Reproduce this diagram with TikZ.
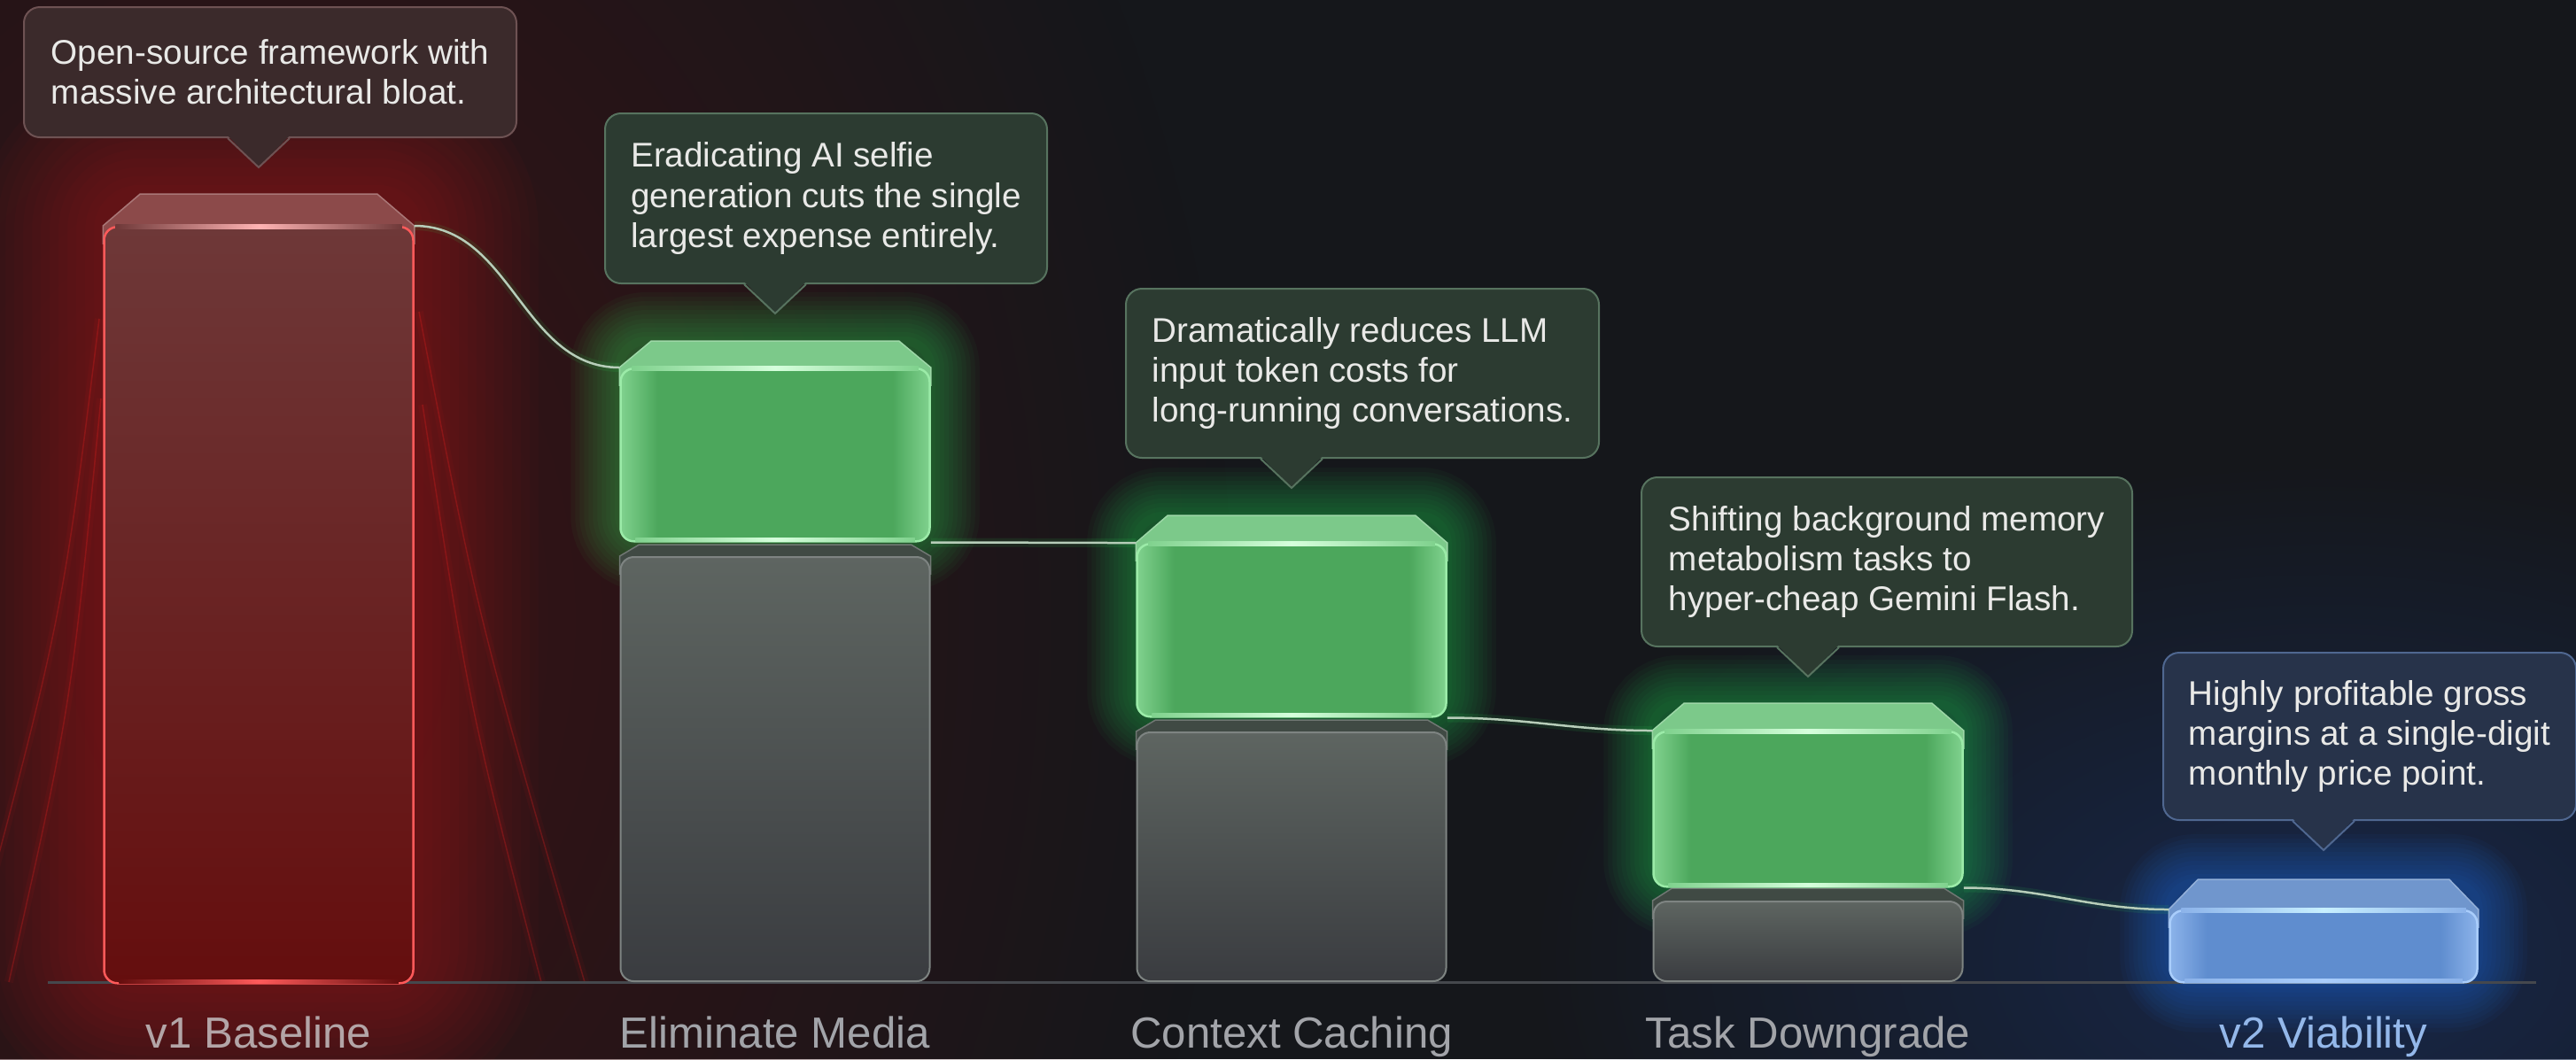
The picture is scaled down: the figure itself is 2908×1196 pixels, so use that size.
\documentclass[tikz,border=0pt]{standalone}
\usepackage{fontspec}
\setmainfont{Liberation Sans}
\usepackage{tikz}
\usepackage{xcolor}
\usetikzlibrary{calc,
	positioning,
	backgrounds,
	fadings}
\definecolor{bgc}{HTML}{15171B}
\definecolor{redhaze}{HTML}{3A1214}
\definecolor{bluhaze}{HTML}{18284A}
\definecolor{redln}{HTML}{FF5A5A}
\definecolor{redtop}{HTML}{6E3838}
\definecolor{redbot}{HTML}{650E0E}
\definecolor{redface}{HTML}{8C4A4A}
\definecolor{redhi}{HTML}{FFB4B4}
\definecolor{redglo}{HTML}{FF2020}
\definecolor{grnedge}{HTML}{80D28E}
\definecolor{grnmid}{HTML}{4CA75C}
\definecolor{grnln}{HTML}{9BEBA8}
\definecolor{grnface}{HTML}{7CC98A}
\definecolor{grnhi}{HTML}{D6FFDC}
\definecolor{grnglo}{HTML}{2FE05A}
\definecolor{gytop}{HTML}{5E6561}
\definecolor{gybot}{HTML}{3A3C40}
\definecolor{gyln}{HTML}{7E8482}
\definecolor{gyface}{HTML}{404A44}
\definecolor{bluedge}{HTML}{8CB3EA}
\definecolor{blumid}{HTML}{5F8DCF}
\definecolor{bluln}{HTML}{A9CDFB}
\definecolor{bluface}{HTML}{7096CD}
\definecolor{bluhi}{HTML}{C8F0FF}
\definecolor{bluglo}{HTML}{2F7DFF}
\definecolor{c1f}{HTML}{3B2A2B}
\definecolor{c1d}{HTML}{6E5253}
\definecolor{c2f}{HTML}{2C3B31}
\definecolor{c2d}{HTML}{57735F}
\definecolor{c5f}{HTML}{27334A}
\definecolor{c5d}{HTML}{4F6790}
\definecolor{txt}{HTML}{E9E9E7}
\definecolor{lbc}{HTML}{A2A4A9}
\definecolor{lb1}{HTML}{B3A5A7}
\definecolor{lb5}{HTML}{94B8EA}
\definecolor{lnc}{HTML}{B7CDB9}
\definecolor{blc}{HTML}{45484D}
\pgfdeclarelayer{back}
\pgfdeclarelayer{glow}
\pgfsetlayers{back,glow,main}
\pgfdeclarehorizontalshading{gblk}{100bp}{color(0bp)=(grnedge); color(25bp)=(grnedge);
	color(31bp)=(grnmid); color(69bp)=(grnmid); color(75bp)=(grnedge); color(100bp)=(grnedge)}
\pgfdeclarehorizontalshading{bblk}{100bp}{color(0bp)=(bluedge); color(25bp)=(bluedge);
	color(31bp)=(blumid); color(69bp)=(blumid); color(75bp)=(bluedge); color(100bp)=(bluedge)}
\tikzfading[name=haze, inner color=transparent!0, outer color=transparent!100]
\tikzstyle{rb}=[draw=redln, line width=0.25mm, top color=redtop, bottom color=redbot,
		rounded corners=1.5mm, minimum width=34.9mm, inner sep=0, anchor=north]
\tikzstyle{gb}=[draw=grnln, line width=0.25mm, shade, shading=gblk,
		rounded corners=1.5mm, minimum width=34.9mm, inner sep=0, anchor=north]
\tikzstyle{gy}=[draw=gyln, line width=0.2mm, top color=gytop, bottom color=gybot,
		rounded corners=1.5mm, minimum width=34.9mm, inner sep=0, anchor=north]
\tikzstyle{bb}=[draw=bluln, line width=0.25mm, shade, shading=bblk,
		rounded corners=1.5mm, minimum width=34.7mm, inner sep=0, anchor=north]
\tikzstyle{cb}=[rounded corners=1.8mm, line width=0.2mm, inner sep=0,
		align=left, text=txt, font=\fontsize{11pt}{12.9pt}\selectfont]
\tikzstyle{cr}=[cb, fill=c1f, draw=c1d]
\tikzstyle{cg}=[cb, fill=c2f, draw=c2d]
\tikzstyle{cl}=[cb, fill=c5f, draw=c5d]
\tikzstyle{lb}=[anchor=base, text=lbc, font=\fontsize{14pt}{16pt}\selectfont]
\tikzstyle{ln}=[draw=lnc, line width=0.25mm]
\tikzstyle{lg}=[draw=grnglo, line width=1mm, opacity=0.1]

\begin{document}
\begin{tikzpicture}[x=0.1mm, y=-0.1mm]
	\useasboundingbox (0,0) rectangle (2908,1196);
	\node[rb, minimum height=85.4mm] (v1) at (292,255) {};
	\node[gy, minimum height=47.9mm] (em0) at (875,628) {};
	\node[gb, minimum height=19.5mm] (em) at (875,415) {};
	\node[gy, minimum height=28.1mm] (cc0) at (1458,826) {};
	\node[gb, minimum height=19.5mm] (cc) at (1458,613) {};
	\node[gy, minimum height=9mm] (td0) at (2041,1017) {};
	\node[gb, minimum height=17.5mm] (td) at (2041,825) {};
	\node[bb, minimum height=8.1mm] (v2) at (2623,1027) {};
	\coordinate (fl) at (0,1183);

	\begin{pgfonlayer}{back}
		\fill[bgc] (0,0) rectangle (2908,1196);
		\fill[redhaze, path fading=haze] (292,700) ellipse [x radius=1100, y radius=1500];
		\fill[bluhaze, path fading=haze] (2623,1080) ellipse [x radius=900, y radius=560];
	\end{pgfonlayer}

	\begin{pgfonlayer}{glow}
		\foreach \p/\q/\r in {{112,360}/{70,700}/{-40,1109}, {114,450}/{80,800}/{10,1109},
				{473,352}/{540,700}/{660,1109}, {477,457}/{530,800}/{611,1109}} {
			\draw[redglo, opacity=0.05, line width=1mm] (\p) .. controls (\q) .. (\r);
			\draw[redglo, opacity=0.25, line width=0.15mm] (\p) .. controls (\q) .. (\r);
		}
		\foreach \i [evaluate=\i as \lw using \i*2] in {1,...,14}
			\draw[redglo, line width=\lw mm, opacity=0.025, rounded corners=4mm] (v1.south west) rectangle ($(v1.north east)+(0,-36)$);
		\foreach \nn/\cl in {em/grnglo, cc/grnglo, td/grnglo, v2/bluglo}
			\foreach \i [evaluate=\i as \lw using \i*1.1] in {1,...,11}
				\draw[\cl, line width=\lw mm, opacity=0.04, rounded corners=3mm] (\nn.south west) rectangle ($(\nn.north east)+(0,-30)$);
		\foreach \nn/\dx/\dy/\cl in {v1/42/36/redface, em/36/30/grnface, cc/36/31/grnface, td/36/31/grnface,
				em0/22/13/gyface, cc0/22/13/gyface, td0/22/14/gyface, v2/33/34/bluface}
			\filldraw[fill=\cl, draw=\cl!75!white, line width=0.15mm] ($(\nn.north west)+(0,20)$) -- (\nn.north west) -- ++(\dx,-\dy)
				-- ($(\nn.north east)+(-\dx,-\dy)$) -- (\nn.north east) -- ($(\nn.north east)+(0,20)$) -- cycle;
		\draw[blc, line width=0.3mm] (54,1109) -- (2863,1109);
	\end{pgfonlayer}

	\foreach \nn/\cl/\hh in {v1/redtop/redhi, em/grnedge/grnhi, cc/grnedge/grnhi, td/grnedge/grnhi, v2/bluedge/bluhi}
		\shade[left color=\cl, right color=\cl, middle color=\hh] ($(\nn.north west)+(14,-2)$) rectangle ($(\nn.north east)+(-14,3)$);
	\foreach \nn/\cl/\hh in {v1/redbot/redln, em/grnedge/grnhi, cc/grnedge/grnhi, td/grnedge/grnhi, v2/bluedge/bluln}
		\shade[left color=\cl, right color=\cl, middle color=\hh] ($(\nn.south west)+(18,-5)$) rectangle ($(\nn.south east)+(-18,-1)$);

	\foreach \a/\b in {v1.north east/em.north west, em.south east/cc.north west,
			cc.south east/td.north west, td.south east/v2.north west} {
		\draw[lg] (\a) to[out=0,in=180] (\b);
		\draw[ln] (\a) to[out=0,in=180] (\b);
	}

	\node[cr, minimum width=55.6mm, minimum height=14.7mm] (v1n) at (305,81.5) {Open-source framework with\\massive architectural bloat.};
	\node[cg, minimum width=49.9mm, minimum height=19.2mm] (emn) at (932.5,224) {Eradicating AI selfie\\generation cuts the single\\largest expense entirely.};
	\node[cg, minimum width=53.4mm, minimum height=19.1mm] (ccn) at (1538,421.5) {Dramatically reduces LLM\\input token costs for\\long-running conversations.};
	\node[cg, minimum width=55.4mm, minimum height=19.1mm] (tdn) at (2130,634.5) {Shifting background memory\\metabolism tasks to\\hyper-cheap Gemini Flash.};
	\node[cl, minimum width=46.6mm, minimum height=18.9mm] (v2n) at (2675,831.5) {Highly profitable gross\\margins at a single-digit\\monthly price point.};
	\foreach \nn/\bx/\ff/\dd in {v1n/v1/c1f/c1d, emn/em/c2f/c2d, ccn/cc/c2f/c2d, tdn/td/c2f/c2d, v2n/v2/c5f/c5d} {
		\fill[\ff] ($(\nn.south -| \bx.north)+(-35,-3)$) -- ($(\nn.south -| \bx.north)+(0,33)$) -- ($(\nn.south -| \bx.north)+(35,-3)$) -- cycle;
		\draw[\dd, line width=0.2mm] ($(\nn.south -| \bx.north)+(-35,0)$) -- ++(35,33) -- ++(35,-33);
	}

	\node[lb, text=lb1] (v1l) at (v1.south |- fl) {v1 Baseline};
	\node[lb] (eml) at (em.south |- fl) {Eliminate Media};
	\node[lb] (ccl) at (cc.south |- fl) {Context Caching};
	\node[lb] (tdl) at (td.south |- fl) {Task Downgrade};
	\node[lb, text=lb5] (v2l) at (v2.south |- fl) {v2 Viability};
\end{tikzpicture}
\end{document}
